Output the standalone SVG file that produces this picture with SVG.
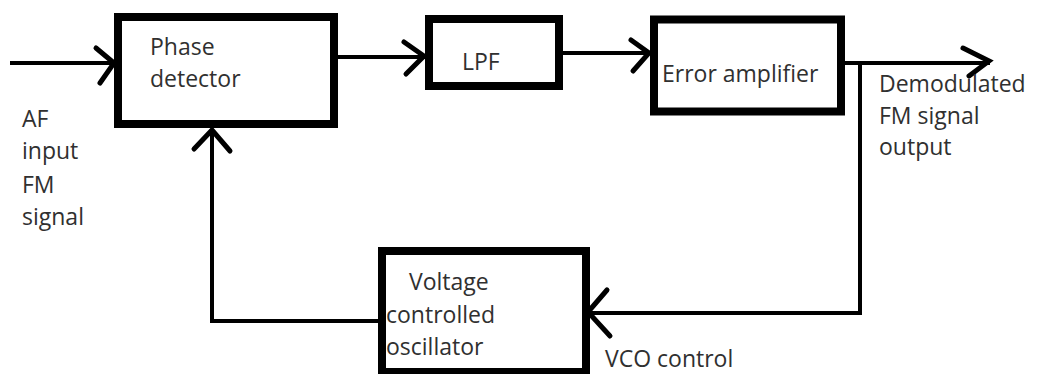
<svg xmlns="http://www.w3.org/2000/svg" width="1038" height="374" viewBox="0 0 1038 374">
<style>
.box{fill:#fff;stroke:#000;stroke-width:8}
.ln{fill:none;stroke:#000;stroke-width:4}
.ah{fill:none;stroke:#000;stroke-width:5;stroke-linecap:round;stroke-linejoin:miter}
text{font-family:"Open Sans","Noto Sans",sans-serif;font-size:23px;fill:#303030}
</style>
<rect width="1038" height="374" fill="#fff"/>
<g id="connectors">
<line class="ln" x1="10" y1="63" x2="114" y2="63"/>
<polyline class="ah" points="96,48 114,63 100,83"/>
<line class="ln" x1="338" y1="57" x2="425" y2="57"/>
<polyline class="ah" points="404,42 424,56 406,74"/>
<line class="ln" x1="563" y1="53" x2="650" y2="53"/>
<polyline class="ah" points="631,40 649,53 633,71"/>
<line class="ln" x1="845" y1="63" x2="990" y2="63"/>
<polyline class="ah" points="963,48 989,61 969,76"/>
<polyline class="ln" points="860,63 860,313 590,313"/>
<polyline class="ah" points="607,290 588,312 610,336"/>
<polyline class="ln" points="378,321 212,321 212,130"/>
<polyline class="ah" points="194,149 212,130 230,151"/>
</g>
<g id="phase-detector">
<rect class="box" x="118" y="17" width="216" height="107"/>
<text x="150" y="55">Phase</text>
<text x="150" y="87">detector</text>
</g>
<g id="lpf">
<rect class="box" x="429" y="19" width="130" height="67"/>
<text x="462" y="70">LPF</text>
</g>
<g id="error-amplifier">
<rect class="box" x="654" y="19.5" width="187" height="92"/>
<text x="662" y="82">Error amplifier</text>
</g>
<g id="vco">
<rect class="box" x="382" y="251" width="204" height="121"/>
<text x="409" y="290">Voltage</text>
<text x="386" y="323">controlled</text>
<text x="386" y="355">oscillator</text>
</g>
<g id="labels">
<text x="22" y="127">AF</text>
<text x="22" y="159">input</text>
<text x="22" y="193">FM</text>
<text x="22" y="225">signal</text>
<text x="879" y="92">Demodulated</text>
<text x="879" y="124">FM signal</text>
<text x="879" y="155">output</text>
<text x="605" y="367">VCO control</text>
</g>
</svg>
